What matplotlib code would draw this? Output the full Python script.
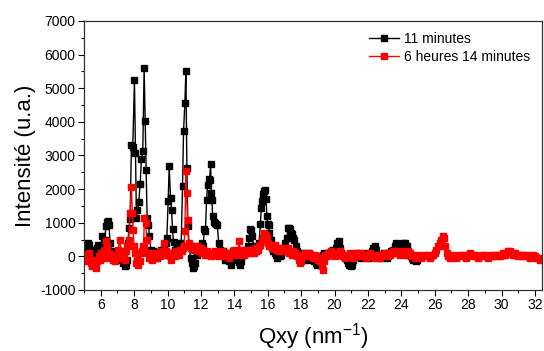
import matplotlib
matplotlib.use('Agg')
import matplotlib.pyplot as plt
from matplotlib.ticker import MultipleLocator

plt.rcParams['font.family'] = ['Liberation Sans', 'DejaVu Sans']
plt.rcParams['mathtext.fontset'] = 'custom'
plt.rcParams['mathtext.rm'] = 'Liberation Sans'
plt.rcParams['axes.unicode_minus'] = False

# 11 minutes
q_11min = [
    5.00, 5.08, 5.16, 5.24, 5.30, 5.38, 5.46, 5.54, 5.62, 5.70, 5.78, 5.86, 5.94, 6.02, 6.08, 6.16,
    6.24, 6.32, 6.38, 6.44, 6.50, 6.56, 6.64, 6.72, 6.80, 6.88, 6.96, 7.04, 7.12, 7.20, 7.28, 7.36,
    7.44, 7.50, 7.56, 7.62, 7.70, 7.76, 7.84, 7.92, 8.02, 8.08, 8.14, 8.20, 8.28, 8.36, 8.44, 8.52,
    8.60, 8.66, 8.72, 8.78, 8.86, 8.92, 9.00, 9.08, 9.16, 9.24, 9.32, 9.40, 9.48, 9.56, 9.64, 9.72,
    9.80, 9.88, 9.96, 10.04, 10.10, 10.18, 10.24, 10.30, 10.36, 10.44, 10.52, 10.60, 10.68, 10.76,
    10.82, 10.90, 10.96, 11.04, 11.10, 11.16, 11.22, 11.30, 11.38, 11.46, 11.52, 11.58, 11.66, 11.74,
    11.82, 11.90, 11.98, 12.06, 12.14, 12.20, 12.27, 12.34, 12.40, 12.46, 12.52, 12.58, 12.62, 12.66,
    12.70, 12.76, 12.84, 12.92, 12.98, 13.06, 13.14, 13.22, 13.30, 13.38, 13.46, 13.54, 13.62, 13.70,
    13.78, 13.86, 13.94, 14.02, 14.10, 14.18, 14.26, 14.34, 14.42, 14.50, 14.58, 14.66, 14.74, 14.82,
    14.90, 14.96, 15.02, 15.08, 15.16, 15.24, 15.32, 15.40, 15.48, 15.56, 15.62, 15.68, 15.74, 15.80,
    15.86, 15.90, 15.95, 16.00, 16.05, 16.10, 16.18, 16.26, 16.34, 16.42, 16.50, 16.58, 16.66, 16.74,
    16.82, 16.90, 16.98, 17.06, 17.14, 17.22, 17.28, 17.34, 17.40, 17.46, 17.52, 17.60, 17.68, 17.76,
    17.84, 17.92, 18.00, 18.08, 18.16, 18.24, 18.32, 18.40, 18.48, 18.56, 18.64, 18.72, 18.80, 18.88,
    18.96, 19.04, 19.12, 19.20, 19.28, 19.36, 19.44, 19.52, 19.60, 19.68, 19.76, 19.84, 19.92, 20.00,
    20.08, 20.16, 20.24, 20.32, 20.40, 20.48, 20.56, 20.64, 20.72, 20.80, 20.88, 20.96, 21.04, 21.12,
    21.20, 21.28, 21.36, 21.44, 21.52, 21.60, 21.68, 21.76, 21.84, 21.92, 22.00, 22.08, 22.16, 22.24,
    22.32, 22.40, 22.48, 22.56, 22.64, 22.72, 22.80, 22.88, 22.96, 23.04, 23.12, 23.20, 23.28, 23.36,
    23.44, 23.52, 23.60, 23.68, 23.76, 23.84, 23.92, 24.00, 24.08, 24.16, 24.24, 24.32, 24.40, 24.48,
    24.56, 24.64, 24.72, 24.80, 24.88, 24.96,
]
i_11min = [
    150, 280, 380, 400, 340, 200, 100, 180, 60, 150, 250, 340, 180, 300, 600, 350,
    500, 900, 1020, 1040, 930, 400, 150, 60, -80, 100, -50, 150, 40, 120, -100, -200,
    -280, -250, -100, 400, 850, 1110, 3320, 3250, 5240, 3080, 1140, 1370, 1610, 2150, 2900, 3120,
    5600, 4020, 2580, 1140, 940, 600, 200, 100, 150, 40, 100, -50, 120, 80, 200, 150,
    250, 400, 550, 1660, 2680, 1740, 1390, 800, 430, 200, 120, 250, 150, 300,
    400, 2100, 3720, 4560, 5510, 2630, 900, 300, -50, -200, -350, -300, -200, 50,
    200, 150, 300, 400, 300, 800, 750, 1690, 2130, 2310, 2280, 2750, 1870, 1680,
    1190, 1030, 990, 960, 940, 400, 200, 100, 150, 50, -100, 100, 0, -150,
    -250, -100, 50, 120, 0, -100, -180, -250, -150, 50, 100, 200, 150, 300,
    550, 800, 790, 600, 300, 200, 150, 300, 400, 960, 1440, 1650, 1850, 1930,
    1960, 1720, 1210, 960, 925, 700, 500, 250, 150, 100, 50, -50, 100, 0,
    50, 150, 200, 400, 550, 830, 850, 800, 700, 660, 560, 500, 300, 150,
    50, -50, 0, 100, -50, 50, -100, 0, 100, 50, -50, -100, -150, -200,
    -250, -200, -100, 0, 50, 100, 0, 50, 100, 50, 150, 100, 200, 150,
    250, 400, 450, 250, 100, 50, 0, -50, -100, -200, -250, -300, -250, -100,
    0, 50, 100, 0, 50, -50, 0, 100, 50, 0, -50, 50, 100, 150,
    250, 300, 200, 50, 0, -50, 0, 50, 100, 0, -50, 50, 100, 150,
    100, 200, 300, 400, 350, 250, 200, 300, 400, 350, 400, 300, 150, 50,
    0, -50, -100, -50, -150, -100,
]

# 6 heures 14 minutes
q_6h14 = [
    5.00, 5.08, 5.16, 5.24, 5.32, 5.40, 5.48, 5.56, 5.64, 5.72, 5.80, 5.88, 5.96, 6.04, 6.12, 6.20,
    6.28, 6.34, 6.40, 6.48, 6.56, 6.64, 6.72, 6.80, 6.88, 6.96, 7.04, 7.14, 7.22, 7.30, 7.38, 7.46,
    7.54, 7.60, 7.68, 7.76, 7.84, 7.90, 7.94, 8.00, 8.06, 8.12, 8.18, 8.26, 8.34, 8.42, 8.50, 8.56,
    8.62, 8.70, 8.76, 8.84, 8.92, 9.00, 9.08, 9.16, 9.24, 9.32, 9.40, 9.48, 9.56, 9.64, 9.72, 9.80,
    9.88, 9.96, 10.04, 10.12, 10.20, 10.28, 10.36, 10.44, 10.52, 10.60, 10.68, 10.76, 10.84, 10.92,
    10.98, 11.04, 11.10, 11.14, 11.20, 11.26, 11.34, 11.42, 11.50, 11.58, 11.66, 11.74, 11.82, 11.90,
    11.98, 12.06, 12.14, 12.22, 12.30, 12.38, 12.46, 12.54, 12.62, 12.70, 12.78, 12.86, 12.94, 13.02,
    13.10, 13.18, 13.26, 13.34, 13.42, 13.50, 13.58, 13.66, 13.74, 13.82, 13.90, 13.98, 14.06, 14.14,
    14.22, 14.28, 14.36, 14.44, 14.52, 14.60, 14.68, 14.76, 14.84, 14.92, 15.00, 15.08, 15.16, 15.24,
    15.32, 15.40, 15.48, 15.56, 15.64, 15.72, 15.80, 15.88, 15.94, 16.02, 16.10, 16.18, 16.26, 16.34,
    16.42, 16.50, 16.58, 16.66, 16.74, 16.82, 16.90, 16.98, 17.06, 17.14, 17.22, 17.30, 17.38, 17.46,
    17.54, 17.62, 17.70, 17.78, 17.86, 17.94, 18.02, 18.10, 18.18, 18.26, 18.34, 18.42, 18.50, 18.58,
    18.66, 18.74, 18.82, 18.90, 18.98, 19.06, 19.14, 19.22, 19.28, 19.36, 19.44, 19.52, 19.60, 19.68,
    19.76, 19.84, 19.92, 20.00, 20.10, 20.20, 20.30, 20.40, 20.50, 20.60, 20.70, 20.80, 20.90, 21.00,
    21.10, 21.20, 21.30, 21.40, 21.50, 21.60, 21.70, 21.80, 21.90, 22.00, 22.10, 22.20, 22.30, 22.40,
    22.50, 22.60, 22.70, 22.80, 22.90, 23.00, 23.10, 23.20, 23.30, 23.40, 23.50, 23.60, 23.70, 23.80,
    23.90, 24.00, 24.10, 24.20, 24.30, 24.40, 24.50, 24.60, 24.70, 24.80, 24.90, 25.00, 25.10, 25.20,
    25.30, 25.40, 25.50, 25.60, 25.70, 25.80, 25.90, 26.00, 26.10, 26.20, 26.30, 26.40, 26.48, 26.56,
    26.64, 26.72, 26.80, 26.90, 27.00, 27.10, 27.20, 27.30, 27.40, 27.50, 27.60, 27.70, 27.80, 27.90,
    28.00, 28.10, 28.20, 28.30, 28.40, 28.50, 28.60, 28.70, 28.80, 28.90, 29.00, 29.10, 29.20, 29.30,
    29.40, 29.50, 29.60, 29.70, 29.80, 29.90, 30.00, 30.10, 30.20, 30.30, 30.40, 30.50, 30.60, 30.70,
    30.80, 30.90, 31.00, 31.10, 31.20, 31.30, 31.40, 31.50, 31.60, 31.70, 31.80, 31.90, 32.00, 32.10,
    32.20, 32.30, 32.40,
]
i_6h14 = [
    0, -150, 50, -100, 100, -200, -300, -100, -250, -350, -150, 0, -100, 100, -50, 150,
    200, 450, 300, 100, -50, 50, -100, 0, -150, 50, 200, 500, 150, -50, 100, -100,
    150, 300, 500, 1300, 2050, 1300, 770, 300, 100, -200, -100, -250, -150, 100, 150, 300,
    1150, 990, 500, 100, -50, 50, -100, 0, 100, -50, 50, 100, 0, 150, 100, 400,
    150, 50, 100, 0, -100, 50, 100, 0, 150, 100, 50, 200, 150, 250,
    300, 745, 2530, 1890, 1090, 400, 300, 250, 300, 200, 250, 300, 200, 150,
    250, 100, 200, 50, 100, 150, 50, 100, 0, 50, 100, 150, 50, 100,
    0, 50, 150, 100, 0, 50, 100, -50, 50, 100, 150, 200, 100, 50,
    150, 450, 200, 100, 150, 50, 100, 150, 200, 100, 150, 200, 100, 150,
    250, 200, 300, 350, 450, 550, 700, 650, 550, 400, 300, 350, 250, 300,
    350, 200, 250, 150, 200, 250, 150, 200, 250, 150, 250, 100, 150, 50,
    150, 100, 50, 0, -100, -200, -150, 0, 50, 100, 0, 50, 100, 50,
    0, -50, 50, 0, -100, -50, -150, -300, -400, -150, 50, 0, 100, 50,
    150, 50, 100, 0, 50, 100, 150, 50, 0, -50, 50, 0, 100, 50,
    -50, 50, 100, 0, 50, 100, 50, 0, -50, 50, 100, 50, 0, -50,
    0, 50, -50, 0, 50, 100, 50, 0, 50, 100, 150, 100, 150, 100,
    50, 100, 150, 100, 50, 150, 100, 50, 0, -50, 0, 50, 0, -50,
    0, 50, 0, 50, -50, 0, 50, 100, 200, 300, 400, 500, 600, 560,
    300, 100, 0, -50, 0, 50, 0, -50, 0, 50, 0, 50, 0, -50,
    50, 100, 50, 0, 50, 0, -50, 0, 50, 0, 50, 0, -50, 0,
    50, 0, 50, 0, 50, 0, 50, 100, 50, 100, 150, 150, 100, 50,
    100, 50, 0, 50, 0, 50, 0, 50, 0, -50, 0, 50, 0, -50,
    -50, -100, -50,
]

fig = plt.figure(figsize=(5.44, 3.51), dpi=100)
ax = fig.add_axes([0.1544, 0.1738, 0.8419, 0.7664])

ax.plot(q_11min, i_11min, color='black', lw=1.0, marker='s', ms=5,
        mec='black', mfc='black', label='11 minutes')
ax.plot(q_6h14, i_6h14, color='red', lw=1.0, marker='s', ms=5,
        mec='red', mfc='red', label='6 heures 14 minutes')

ax.set_xlim(5.0, 32.42)
ax.set_ylim(-1000, 7000)
ax.xaxis.set_major_locator(MultipleLocator(2))
ax.xaxis.set_minor_locator(MultipleLocator(1))
ax.yaxis.set_major_locator(MultipleLocator(1000))
ax.yaxis.set_minor_locator(MultipleLocator(500))
ax.tick_params(which='major', direction='out', length=4, width=0.8, labelsize=10,
               top=False, right=False, pad=2)
ax.tick_params(which='minor', direction='out', length=2, width=0.8,
               top=False, right=False)
for s in ax.spines.values():
    s.set_linewidth(0.9)
    s.set_color('#333333')

ax.set_xlabel('Qxy (nm$^{\\mathregular{-1}}$)', fontsize=16, labelpad=6)
ax.set_ylabel('Intensité (u.a.)', fontsize=16, labelpad=3)

ax.legend(loc='upper left', bbox_to_anchor=(0.622, 0.96), frameon=False,
          fontsize=10, handlelength=2.2, handletextpad=0.35, labelspacing=0.3,
          borderpad=0, borderaxespad=0, markerscale=0.75)

fig.savefig('out.png', dpi=100)
